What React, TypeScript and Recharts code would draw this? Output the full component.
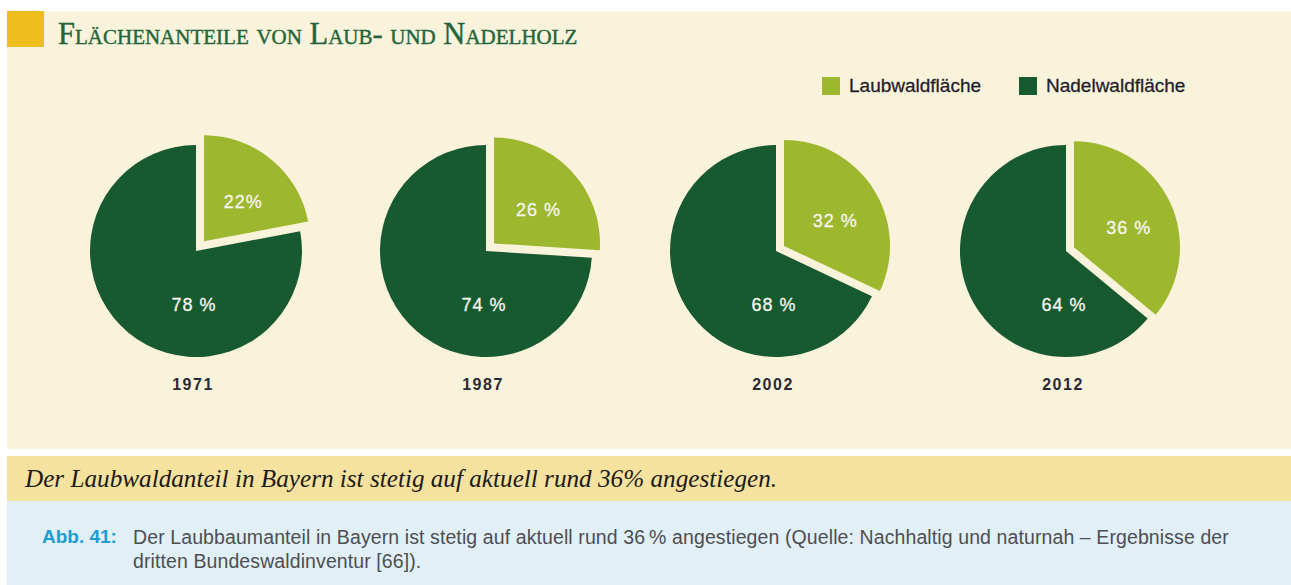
import React from 'react';
import { PieChart, Pie, Cell } from 'recharts';

const years = ['1971', '1987', '2002', '2012'];
const laubShare = [22, 26, 32, 36];
const nadelShare = [78, 74, 68, 64];
const laubLabels = ['22%', '26 %', '32 %', '36 %'];
const nadelLabels = ['78 %', '74 %', '68 %', '64 %'];
const seriesNames = ['Laubwaldfläche', 'Nadelwaldfläche'];

const LAUB = '#9db72f';
const NADEL = '#175a2f';
const BEIGE = '#faf3dc';
const RAD = Math.PI / 180;

const CHART_W = 290;
const CHART_H = 251;
const PIE_R = 106;
const GAP = 8;

const sans = '"Liberation Sans", Arial, sans-serif';
const serif = '"Liberation Serif", "Times New Roman", serif';

// light slice is pulled out along its bisector, so the gap to the dark edge stays ~8px
const explode = (share: number) => {
  const half = (share / 100) * 180;
  const mid = 90 - half;
  const d = GAP / Math.sin(half * RAD);
  return { dx: d * Math.cos(mid * RAD), dy: -d * Math.sin(mid * RAD) };
};

const labelStyle = {
  fill: '#f6f5ee',
  fontFamily: sans,
  fontSize: 18,
  letterSpacing: 1,
  stroke: '#f6f5ee',
  strokeWidth: 0.3,
};

const YearPie = ({ i }: { i: number }) => {
  const data = [
    { name: seriesNames[0], value: laubShare[i] },
    { name: seriesNames[1], value: nadelShare[i] },
  ];
  const { dx, dy } = explode(laubShare[i]);
  const cx = CHART_W / 2;
  const cy = 130;

  const darkLabel = (p: any) => {
    if (p.index !== 1) return null;
    return (
      <text x={p.cx - 2} y={p.cy + p.outerRadius * 0.51} textAnchor="middle" dominantBaseline="central" {...labelStyle}>
        {nadelLabels[i]}
      </text>
    );
  };

  const lightLabel = (p: any) => {
    if (p.index !== 0) return null;
    const r = p.outerRadius * 0.55;
    const x = p.cx + Math.cos(-p.midAngle * RAD) * r + 2;
    const y = p.cy + Math.sin(-p.midAngle * RAD) * r + 6;
    return (
      <text x={x} y={y} textAnchor="middle" dominantBaseline="central" {...labelStyle}>
        {laubLabels[i]}
      </text>
    );
  };

  return (
    <div style={{ width: CHART_W }}>
      <PieChart width={CHART_W} height={CHART_H} margin={{ top: 0, right: 0, bottom: 0, left: 0 }}>
        <Pie
          data={data}
          dataKey="value"
          cx={cx}
          cy={cy}
          outerRadius={PIE_R}
          startAngle={90}
          endAngle={-270}
          stroke="none"
          label={darkLabel}
          labelLine={false}
          isAnimationActive={false}
        >
          <Cell fill="transparent" />
          <Cell fill={NADEL} />
        </Pie>
        <Pie
          data={data}
          dataKey="value"
          cx={cx + dx}
          cy={cy + dy}
          outerRadius={PIE_R}
          startAngle={90}
          endAngle={-270}
          stroke="none"
          label={lightLabel}
          labelLine={false}
          isAnimationActive={false}
        >
          <Cell fill={LAUB} />
          <Cell fill="transparent" />
        </Pie>
      </PieChart>
      <div
        style={{
          height: 26,
          lineHeight: '26px',
          textAlign: 'center',
          fontFamily: sans,
          fontWeight: 'bold',
          fontSize: 16,
          letterSpacing: 1.5,
          color: '#2c2a33',
          marginLeft: -6,
        }}
      >
        {years[i]}
      </div>
    </div>
  );
};

const captionText =
  'Der Laubbaumanteil in Bayern ist stetig auf aktuell rund 36\u2009% angestiegen (Quelle: Nachhaltig und naturnah – Ergebnisse der dritten Bundeswaldinventur [66]).';

export default function App() {
  return (
    <div style={{ position: 'relative', width: 1291, height: 585, background: '#fff', overflow: 'hidden' }}>
      <style>{'body{margin:0}'}</style>

      <div style={{ position: 'absolute', left: 7, top: 11, width: 1284, height: 438, background: BEIGE }} />
      <div style={{ position: 'absolute', left: 7, top: 11, width: 37, height: 36, background: '#f0bd1f' }} />
      <div
        style={{
          position: 'absolute',
          left: 58,
          top: 19,
          fontFamily: serif,
          fontSize: 30.5,
          lineHeight: '30px',
          fontVariant: 'small-caps',
          color: '#22653a',
          whiteSpace: 'nowrap',
          WebkitTextStroke: '0.4px #22653a',
        }}
      >
        Flächenanteile von Laub- und Nadelholz
      </div>

      {/* legend */}
      {seriesNames.map((name, k) => (
        <div
          key={name}
          style={{
            position: 'absolute',
            left: k === 0 ? 822 : 1019,
            top: 75,
            display: 'flex',
            alignItems: 'center',
            fontFamily: sans,
            fontSize: 19,
            color: '#1f1e2a',
            whiteSpace: 'nowrap',
            WebkitTextStroke: '0.3px #1f1e2a',
          }}
        >
          <span style={{ width: 18, height: 18, background: k === 0 ? LAUB : NADEL, marginRight: 9 }} />
          {name}
        </div>
      ))}

      <div style={{ position: 'absolute', left: 51, top: 121, display: 'flex' }}>
        {years.map((y, i) => (
          <YearPie key={y} i={i} />
        ))}
      </div>

      <div style={{ position: 'absolute', left: 7, top: 456, width: 1284, height: 45, background: '#f6e29f' }} />
      <div
        style={{
          position: 'absolute',
          left: 25,
          top: 456,
          height: 45,
          lineHeight: '45px',
          fontFamily: serif,
          fontStyle: 'italic',
          fontSize: 25.2,
          color: '#1c1a1a',
          whiteSpace: 'nowrap',
        }}
      >
        Der Laubwaldanteil in Bayern ist stetig auf aktuell rund 36% angestiegen.
      </div>

      <div style={{ position: 'absolute', left: 7, top: 501, width: 1284, height: 84, background: '#e1eff7' }} />
      <div
        style={{
          position: 'absolute',
          left: 42,
          top: 525,
          width: 84,
          whiteSpace: 'nowrap',
          fontFamily: sans,
          fontWeight: 'bold',
          fontSize: 19,
          lineHeight: '24px',
          color: '#1b9dd2',
        }}
      >
        Abb. 41:
      </div>
      <div
        style={{
          position: 'absolute',
          left: 133,
          top: 525,
          width: 1130,
          fontFamily: sans,
          fontSize: 19.5,
          letterSpacing: 0.1,
          lineHeight: '24px',
          color: '#4e4e52',
        }}
      >
        {captionText}
      </div>
    </div>
  );
}
